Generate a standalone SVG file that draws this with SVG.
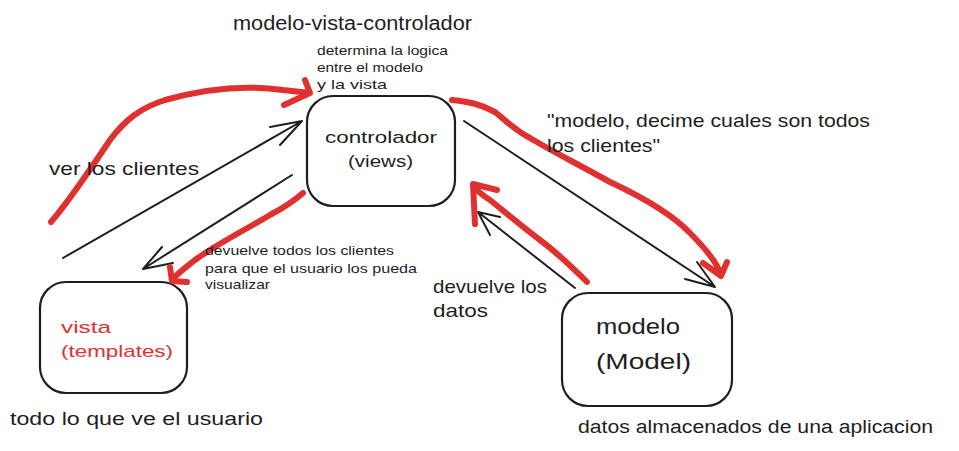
<svg xmlns="http://www.w3.org/2000/svg" width="959" height="451" viewBox="0 0 959 451">
<style>
text{font-family:"Liberation Sans","DejaVu Sans",sans-serif;fill:#1e1e1e}
.box{fill:#fff;stroke:#1e1e1e;stroke-width:2.2}
.blk{fill:none;stroke:#1e1e1e;stroke-width:2;stroke-linecap:round;stroke-linejoin:round}
.red{fill:none;stroke:#e03131;stroke-width:6;stroke-linecap:round;stroke-linejoin:round}
.r{fill:#e03131}
</style>
<rect width="959" height="451" fill="#fff"/>
<text x="233" y="30" font-size="20" textLength="239" lengthAdjust="spacingAndGlyphs">modelo-vista-controlador</text>
<g font-size="13">
<text x="317" y="55" textLength="131" lengthAdjust="spacingAndGlyphs">determina la logica</text>
<text x="317" y="72" textLength="106" lengthAdjust="spacingAndGlyphs">entre el modelo</text>
<text x="317" y="89" textLength="70" lengthAdjust="spacingAndGlyphs">y la vista</text>
</g>
<g id="controlador">
<rect class="box" x="307" y="96" width="148" height="110" rx="26"/>
<text x="325" y="143" font-size="17" textLength="112" lengthAdjust="spacingAndGlyphs">controlador</text>
<text x="348" y="167" font-size="17" textLength="65" lengthAdjust="spacingAndGlyphs">(views)</text>
</g>
<g id="vista">
<rect class="box" x="40" y="282" width="147" height="111" rx="26"/>
<text class="r" x="61" y="333" font-size="17" textLength="50" lengthAdjust="spacingAndGlyphs" style="fill:#e03131">vista</text>
<text class="r" x="61" y="357" font-size="17" textLength="112" lengthAdjust="spacingAndGlyphs" style="fill:#e03131">(templates)</text>
</g>
<g id="modelo">
<rect class="box" x="562" y="293" width="170" height="113" rx="26"/>
<text x="596" y="334" font-size="22" textLength="84" lengthAdjust="spacingAndGlyphs">modelo</text>
<text x="596" y="369" font-size="22" textLength="95" lengthAdjust="spacingAndGlyphs">(Model)</text>
</g>
<g id="connectors">
<path class="blk" d="M63 258 L302 121 M270 127 L302 121 L280 145"/>
<path class="blk" d="M292 175 L143 269 M162 247 L143 269 L173 263"/>
<path class="blk" d="M464 121 L715 287 M697 262 L715 287 L685 279"/>
<path class="blk" d="M575 288 L478 212 M500 217 L478 212 L490 235"/>
<path class="red" d="M51 222 C70 200 90 170 110 140 C125 120 140 108 165 100 C200 90 240 84 283 90 L310 93 M305 80 L310 93 L284 105"/>
<path class="red" d="M303 193 C295 200 285 207 270 215 C245 230 215 245 195 260 C185 268 178 273 172 280 M170 267 L172 281 L187 282"/>
<path class="red" d="M452 100 C470 102 480 104 495 112 C505 120 515 130 530 138 C550 150 570 160 610 182 C640 196 670 212 690 233 C705 248 715 260 720 272 M703 263 L721 276 L727 262"/>
<path class="red" d="M587 282 C575 270 560 255 540 240 C520 225 505 212 490 200 C482 195 476 190 473 185 M497 190 L473 184 L475 224"/>
</g>
<text x="49" y="175" font-size="19" textLength="150" lengthAdjust="spacingAndGlyphs">ver los clientes</text>
<text x="547" y="127" font-size="19" textLength="323" lengthAdjust="spacingAndGlyphs">"modelo, decime cuales son todos</text>
<text x="547" y="152" font-size="19" textLength="113" lengthAdjust="spacingAndGlyphs">los clientes"</text>
<g font-size="13">
<text x="205" y="255" textLength="189" lengthAdjust="spacingAndGlyphs">devuelve todos los clientes</text>
<text x="205" y="273" textLength="212" lengthAdjust="spacingAndGlyphs">para que el usuario los pueda</text>
<text x="205" y="289" textLength="65" lengthAdjust="spacingAndGlyphs">visualizar</text>
</g>
<text x="10" y="425" font-size="18" textLength="253" lengthAdjust="spacingAndGlyphs">todo lo que ve el usuario</text>
<text x="433" y="293" font-size="19" textLength="114" lengthAdjust="spacingAndGlyphs">devuelve los</text>
<text x="433" y="317" font-size="19" textLength="55" lengthAdjust="spacingAndGlyphs">datos</text>
<text x="578" y="433" font-size="18" textLength="355" lengthAdjust="spacingAndGlyphs">datos almacenados de una aplicacion</text>
</svg>
